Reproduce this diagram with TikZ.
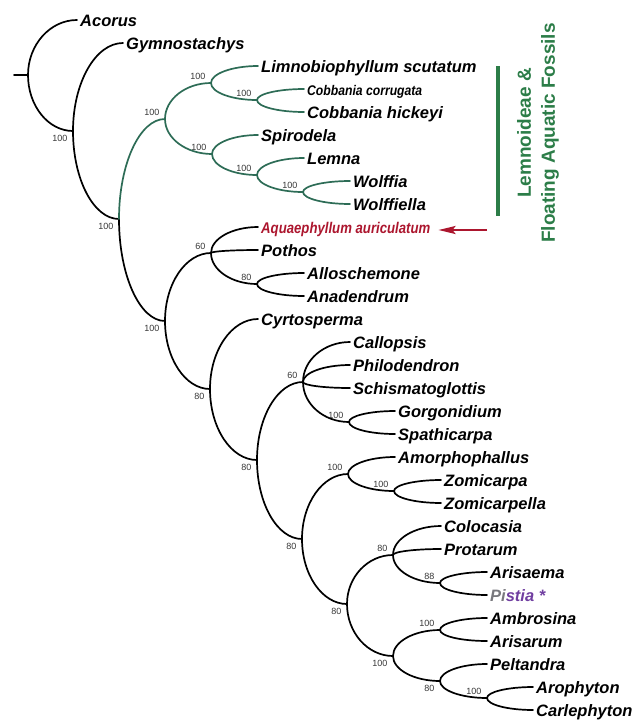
\documentclass[tikz,border=0pt]{standalone}
\usepackage{fontspec}
\setmainfont{Liberation Sans}
\usepackage{graphicx}
\usetikzlibrary{calc,positioning,arrows.meta}

\definecolor{cladegreen}{RGB}{45,108,86}
\definecolor{bargreen}{RGB}{44,125,72}
\definecolor{fossilred}{RGB}{172,22,46}
\definecolor{pistiapurple}{RGB}{112,62,160}
\definecolor{pistiagray}{RGB}{120,120,125}
\definecolor{bsgray}{RGB}{55,55,55}

\tikzset{
  branch/.style={line width=1.7pt, line cap=round},
  green branch/.style={branch, draw=cladegreen},
  taxon/.style={anchor=west, inner xsep=3pt, inner ysep=0pt,
    text height=1.3em, text depth=0pt,
    font=\fontsize{16.5}{18}\selectfont\bfseries\itshape},
  bs/.style={font=\fontsize{9}{10}\selectfont, text=bsgray, inner sep=0pt},
  bsup/.style={bs, above left=3.5pt and 5.5pt},
  bsdown/.style={bs, below left=4.5pt and 5.5pt},
}

\begin{document}
\begin{tikzpicture}[x=1pt,y=-1pt]
    \useasboundingbox (0,0) rectangle (637,724);

    % branch: leaves the parent vertically, meets the child horizontally
    \def\br#1#2#3{\draw[#1] (#2) .. controls ($(#2)!0.55!(#2|-#3)$) and ($(#3)!0.55!(#2|-#3)$) .. (#3);}

    % Taxa
    \node[taxon] (acorus) at (77,20) {Acorus};
    \node[taxon] (gymno) at (123,43) {Gymnostachys};
    \node[taxon] (limno) at (258,66) {Limnobiophyllum scutatum};
    \node[taxon, font=\fontsize{14}{16}\selectfont\bfseries\itshape] (cobcor) at (304,89) {\scalebox{0.87}[1]{Cobbania corrugata}};
    \node[taxon] (cobhic) at (304,112) {Cobbania hickeyi};
    \node[taxon] (spiro) at (258,135) {Spirodela};
    \node[taxon] (lemna) at (304,158) {Lemna};
    \node[taxon] (wolffia) at (350,181) {Wolffia};
    \node[taxon] (wolffiella) at (350,204) {Wolffiella};
    \node[taxon, text=fossilred, font=\fontsize{15.5}{17}\selectfont\bfseries\itshape] (aqua) at (258,227) {\scalebox{0.85}[1]{Aquaephyllum auriculatum}};
    \node[taxon] (pothos) at (258,250) {Pothos};
    \node[taxon] (allo) at (304,273) {Alloschemone};
    \node[taxon] (anad) at (304,296) {Anadendrum};
    \node[taxon] (cyrto) at (258,319) {Cyrtosperma};
    \node[taxon] (callo) at (350,342) {Callopsis};
    \node[taxon] (philo) at (350,365) {Philodendron};
    \node[taxon] (schism) at (350,388) {Schismatoglottis};
    \node[taxon] (gorgo) at (395,411) {Gorgonidium};
    \node[taxon] (spathi) at (395,434) {Spathicarpa};
    \node[taxon] (amorph) at (395,457) {Amorphophallus};
    \node[taxon] (zomi) at (441,480) {Zomicarpa};
    \node[taxon] (zomil) at (441,503) {Zomicarpella};
    \node[taxon] (coloc) at (441,526) {Colocasia};
    \node[taxon] (protar) at (441,549) {Protarum};
    \node[taxon] (arisaema) at (487,572) {Arisaema};
    \node[taxon] (pistia) at (487,595) {\textcolor{pistiagray}{Pi}\textcolor{pistiapurple}{stia *}};
    \node[taxon] (ambro) at (487,618) {Ambrosina};
    \node[taxon] (arisarum) at (487,641) {Arisarum};
    \node[taxon] (pelt) at (487,664) {Peltandra};
    \node[taxon] (aroph) at (533,687) {Arophyton};
    \node[taxon] (carle) at (533,710) {Carlephyton};

    % Internal nodes
    \coordinate (stem) at (14,75);
    \coordinate (root) at (28,75);
    \coordinate (A) at (73,131);
    \coordinate (B) at (119,219);
    \coordinate (C) at (165,119);
    \coordinate (E) at (211,83);
    \coordinate (G) at (257,100);
    \coordinate (F) at (212,154);
    \coordinate (H) at (257,175);
    \coordinate (I) at (303,192);
    \coordinate (D) at (165,321);
    \coordinate (J) at (211,253);
    \coordinate (L) at (257,284);
    \coordinate (K) at (210,389);
    \coordinate (M) at (257,460);
    \coordinate (N) at (303,382);
    \coordinate (P) at (349,422);
    \coordinate (O) at (302,539);
    \coordinate (Q) at (348,474);
    \coordinate (S) at (394,491);
    \coordinate (R) at (347,604);
    \coordinate (T) at (393,555);
    \coordinate (V) at (440,583);
    \coordinate (U) at (393,656);
    \coordinate (W) at (440,630);
    \coordinate (X) at (440,681);
    \coordinate (Y) at (487,698);

    % Backbone
    \draw[branch] (stem) -- (root);
    \br{branch}{root}{acorus.west}
    \br{branch}{root}{A}
    \br{branch}{A}{gymno.west}
    \br{branch}{A}{B}
    \br{branch}{B}{D}

    % Lemnoideae
    \br{green branch}{B}{C}
    \br{green branch}{C}{E}
    \br{green branch}{C}{F}
    \br{green branch}{E}{limno.west}
    \br{green branch}{E}{G}
    \br{green branch}{G}{cobcor.west}
    \br{green branch}{G}{cobhic.west}
    \br{green branch}{F}{spiro.west}
    \br{green branch}{F}{H}
    \br{green branch}{H}{lemna.west}
    \br{green branch}{H}{I}
    \br{green branch}{I}{wolffia.west}
    \br{green branch}{I}{wolffiella.west}

    % Rest of the family
    \br{branch}{D}{J}
    \br{branch}{D}{K}
    \br{branch}{J}{aqua.west}
    \br{branch}{J}{pothos.west}
    \br{branch}{J}{L}
    \br{branch}{L}{allo.west}
    \br{branch}{L}{anad.west}
    \br{branch}{K}{cyrto.west}
    \br{branch}{K}{M}
    \br{branch}{M}{N}
    \br{branch}{M}{O}
    \br{branch}{N}{callo.west}
    \br{branch}{N}{philo.west}
    \br{branch}{N}{schism.west}
    \br{branch}{N}{P}
    \br{branch}{P}{gorgo.west}
    \br{branch}{P}{spathi.west}
    \br{branch}{O}{Q}
    \br{branch}{O}{R}
    \br{branch}{Q}{amorph.west}
    \br{branch}{Q}{S}
    \br{branch}{S}{zomi.west}
    \br{branch}{S}{zomil.west}
    \br{branch}{R}{T}
    \br{branch}{R}{U}
    \br{branch}{T}{coloc.west}
    \br{branch}{T}{protar.west}
    \br{branch}{T}{V}
    \br{branch}{V}{arisaema.west}
    \br{branch}{V}{pistia.west}
    \br{branch}{U}{W}
    \br{branch}{U}{X}
    \br{branch}{W}{ambro.west}
    \br{branch}{W}{arisarum.west}
    \br{branch}{X}{pelt.west}
    \br{branch}{X}{Y}
    \br{branch}{Y}{aroph.west}
    \br{branch}{Y}{carle.west}

    % Support values
    \foreach \n/\v/\s in {A/100/bsdown, B/100/bsdown, C/100/bsup, D/100/bsdown,
        E/100/bsup, G/100/bsup, F/100/bsup, H/100/bsup, I/100/bsup,
        J/60/bsup, L/80/bsup, K/80/bsdown, M/80/bsdown, N/60/bsup, P/100/bsup,
        O/80/bsdown, Q/100/bsup, S/100/bsup, R/80/bsdown, T/80/bsup, V/88/bsup,
        U/100/bsdown, W/100/bsup, X/80/bsdown, Y/100/bsup}
        \node[\s] (bs\n) at (\n) {\v};

    % Clade bar and label
    \coordinate (bartop) at (498,66);
    \coordinate (barbot) at (498,216);
    \draw[line width=4pt, bargreen] (bartop) -- (barbot);
    \node[rotate=90, align=center, text=bargreen,
        font=\fontsize{19}{24}\selectfont\bfseries] (cladelbl) at (538,133)
        {Lemnoideae \&\\Floating Aquatic Fossils};

    % Arrow to the fossil
    \coordinate (arrtail) at (487,230);
    \coordinate (arrtip) at ($(aqua.east|-arrtail)+(5,0)$);
    \draw[fossilred, line width=2pt, -{Stealth[length=17pt,width=8pt,inset=3pt]}] (arrtail) -- (arrtip);

\end{tikzpicture}
\end{document}
